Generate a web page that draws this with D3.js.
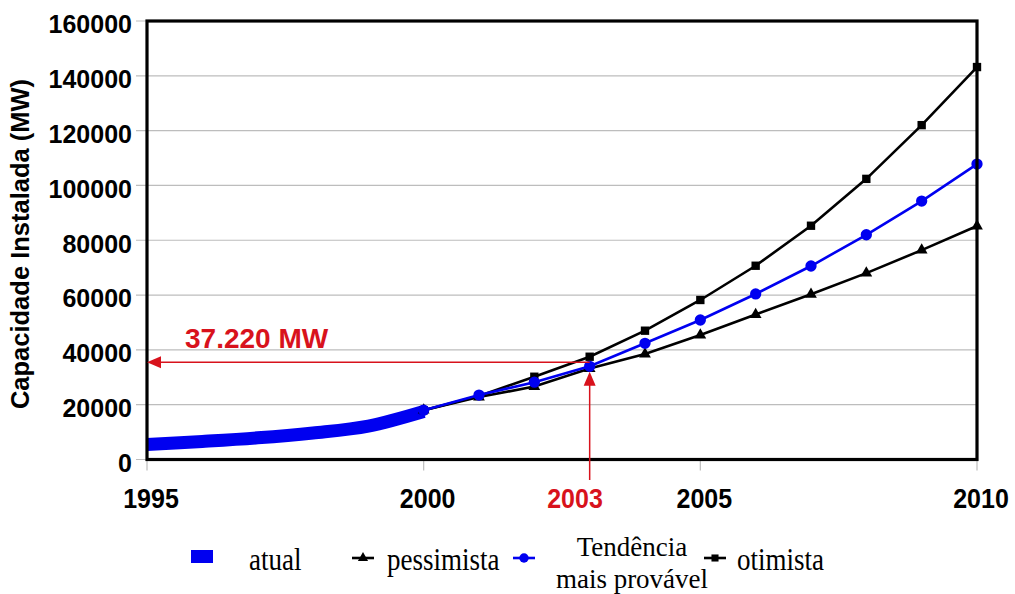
<!DOCTYPE html>
<html><head><meta charset="utf-8">
<script src="https://cdn.jsdelivr.net/npm/d3@7"></script>
<style>body{margin:0;background:#fff}svg{display:block}</style>
</head><body>
<svg id="c" width="1015" height="594"></svg>
<script>
const atualYears = [1995, 1996, 1997, 1998, 1999, 2000];
const atual = [5500, 6600, 7900, 9700, 12200, 17500];
const projYears = [2000, 2001, 2002, 2003, 2004, 2005, 2006, 2007, 2008, 2009, 2010];
const pessimista = [18000, 22800, 26600, 33200, 38500, 45400, 52900, 60300, 68000, 76400, 85200];
const tendencia = [18000, 23500, 28200, 34000, 42400, 50900, 60400, 70600, 82000, 94300, 107800];
const otimista = [18000, 23200, 30200, 37500, 47000, 58200, 70700, 85300, 102400, 122000, 143200];
const yTicks = [0, 20000, 40000, 60000, 80000, 100000, 120000, 140000, 160000];
const xTicks = [1995, 2000, 2005, 2010];
const markYear = 2003, markValue = 35500, markLabel = "37.220 MW";
const legendLabels = ["atual", "pessimista", ["Tendência", "mais provável"], "otimista"];

const svg = d3.select("#c");
const x = d3.scaleLinear().domain([1995, 2010]).range([147, 977]);
const y = d3.scaleLinear().domain([0, 160000]).range([459.5, 21]);
const RED = "#d8121c", BLUE = "#0000f0";
const sans = "'Liberation Sans', Arial, sans-serif";
const serif = "'Liberation Serif', 'Times New Roman', serif";

// gridlines
svg.append("g").selectAll("line").data(yTicks).join("line")
  .attr("x1", 136).attr("x2", x(2010)).attr("y1", d => y(d)).attr("y2", d => y(d))
  .attr("stroke", "#bdbdbd").attr("stroke-width", 1.2);
// x ticks
svg.append("g").selectAll("line").data(xTicks).join("line")
  .attr("x1", d => x(d)).attr("x2", d => x(d)).attr("y1", y(0)).attr("y2", y(0) + 11)
  .attr("stroke", "#bdbdbd").attr("stroke-width", 1.2);

// y tick labels
svg.append("g").selectAll("text").data(yTicks).join("text")
  .attr("x", 132).attr("y", d => y(d) + 12.3).attr("text-anchor", "end")
  .attr("font-family", sans).attr("font-weight", "bold").attr("font-size", 25)
  .text(d => d);
// x tick labels
svg.append("g").selectAll("text").data(xTicks).join("text")
  .attr("x", d => x(d) + 4).attr("y", 508).attr("text-anchor", "middle")
  .attr("font-family", sans).attr("font-weight", "bold").attr("font-size", 25)
  .attr("transform", "translate(0,508) scale(1,1.08) translate(0,-508)")
  .text(d => d);

// y axis title
svg.append("text").attr("transform", "translate(29,244) rotate(-90)")
  .attr("text-anchor", "middle").attr("font-family", sans).attr("font-weight", "bold")
  .attr("font-size", 25.5).text("Capacidade Instalada (MW)");

// series
const line = d3.line().x(d => x(d[0])).y(d => y(d[1])).curve(d3.curveCatmullRom);
svg.append("path").datum(d3.zip(atualYears, atual)).attr("d", line)
  .attr("fill", "none").attr("stroke", BLUE).attr("stroke-width", 13).attr("stroke-linecap", "butt");

const lin = d3.line().x(d => x(d[0])).y(d => y(d[1]));
function drawSeries(vals, color, marker) {
  const pts = d3.zip(projYears, vals);
  svg.append("path").datum(pts).attr("d", lin).attr("fill", "none")
    .attr("stroke", color).attr("stroke-width", 2.6);
  svg.append("g").selectAll("path").data(pts).join("path")
    .attr("transform", d => `translate(${x(d[0])},${y(d[1])})`)
    .attr("d", marker).attr("fill", color);
}
const tri = d3.symbol(d3.symbolTriangle, 60)();
const sq = d3.symbol(d3.symbolSquare, 70)();
const circ = d3.symbol(d3.symbolCircle, 100)();
drawSeries(pessimista, "#000", tri);
drawSeries(otimista, "#000", sq);
drawSeries(tendencia, BLUE, circ);

// frame
svg.append("rect").attr("x", x(1995)).attr("y", y(160000))
  .attr("width", x(2010) - x(1995)).attr("height", y(0) - y(160000))
  .attr("fill", "none").attr("stroke", "#000").attr("stroke-width", 3.2);

// annotation
const ax = x(markYear), ay = y(markValue);
svg.append("line").attr("x1", ax).attr("x2", x(1995) + 12).attr("y1", ay).attr("y2", ay)
  .attr("stroke", RED).attr("stroke-width", 1.5);
svg.append("path").attr("d", `M${x(1995)},${ay} l14,-6 l0,12 z`).attr("fill", RED);
const tipY = y(32000);
svg.append("line").attr("x1", ax).attr("x2", ax).attr("y1", tipY + 12).attr("y2", 480)
  .attr("stroke", RED).attr("stroke-width", 1.5);
svg.append("path").attr("d", `M${ax},${tipY} l-6,14 l12,0 z`).attr("fill", RED);
svg.append("text").attr("x", 185).attr("y", 348).attr("font-family", sans)
  .attr("font-weight", "bold").attr("font-size", 28).attr("fill", RED).text(markLabel);
svg.append("text").attr("x", 575).attr("y", 508).attr("text-anchor", "middle")
  .attr("font-family", sans).attr("font-weight", "bold").attr("font-size", 25).attr("fill", RED)
  .attr("transform", "translate(0,508) scale(1,1.08) translate(0,-508)")
  .text(markYear);

// legend
const lg = svg.append("g").attr("font-family", serif).attr("font-size", 27);
lg.append("rect").attr("x", 191).attr("y", 550).attr("width", 22).attr("height", 13).attr("fill", BLUE);
function legText(tx, ty, s, anchor, sy) {
  lg.append("text").attr("x", tx).attr("y", ty).attr("text-anchor", anchor || "start")
    .attr("transform", `translate(0,${ty}) scale(1,${sy || 1.14}) translate(0,${-ty})`).text(s);
}
legText(249, 570, legendLabels[0]);
function legMark(cx, color, marker) {
  lg.append("line").attr("x1", cx - 11).attr("x2", cx + 11).attr("y1", 558).attr("y2", 558)
    .attr("stroke", color).attr("stroke-width", 2.6);
  lg.append("path").attr("transform", `translate(${cx},558)`).attr("d", marker).attr("fill", color);
}
legMark(363, "#000", d3.symbol(d3.symbolTriangle, 45)());
legText(387, 570, legendLabels[1]);
legMark(524, BLUE, d3.symbol(d3.symbolCircle, 70)());
legText(632, 556, legendLabels[2][0], "middle", 1.05);
legText(632, 588, legendLabels[2][1], "middle", 1.05);
legMark(715, "#000", d3.symbol(d3.symbolSquare, 50)());
legText(737, 570, legendLabels[3]);
</script>
</body></html>
